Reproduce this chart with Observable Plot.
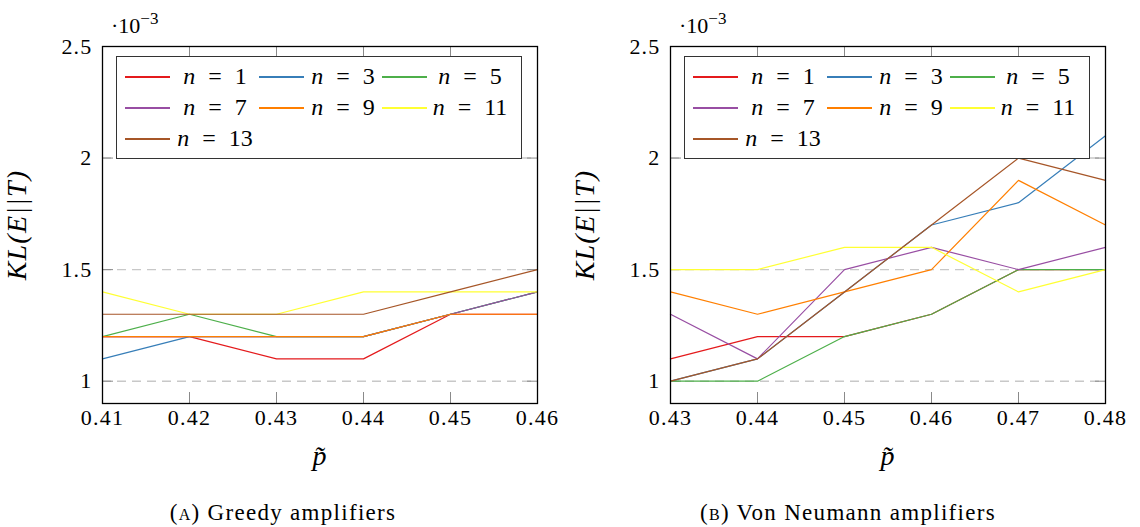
<!DOCTYPE html>
<html><head><meta charset="utf-8">
<script src="https://cdn.jsdelivr.net/npm/d3@7"></script>
<script src="https://cdn.jsdelivr.net/npm/@observablehq/plot@0.6"></script>
<style>
body{margin:0;background:#fff;}
#wrap{position:relative;width:1140px;height:527px;overflow:hidden;font-family:"Liberation Serif","Times New Roman",Tinos,"DejaVu Serif",serif;color:#000;background:#fff;}
.panel{position:absolute;top:0;width:570px;height:527px;}
.panel svg{position:absolute;left:0;top:0;}
.legend{position:absolute;left:116px;top:56px;width:406px;height:103px;border:1.3px solid #333;background:#fff;box-sizing:border-box;}
.li{position:absolute;height:1.5px;width:45px;}
.lt{position:absolute;width:100px;text-align:center;font-size:24px;line-height:24px;word-spacing:7px;white-space:nowrap;}
.exp{position:absolute;left:111px;top:15px;font-size:22px;line-height:22px;white-space:nowrap;}
.exp span{position:relative;top:-9px;font-size:17px;}
.cap{position:absolute;top:501px;font-size:23px;line-height:24px;letter-spacing:1.3px;white-space:nowrap;transform:translateX(-50%);}
[aria-label="ylabel"], [aria-label="ylabel"] text{letter-spacing:5px;}
[aria-label="xlabel"], [aria-label="xlabel"] text{letter-spacing:0;}
</style>
</head>
<body>
<div id="wrap"></div>
<script>
// series identifiers and colours
const nValues = [1, 3, 5, 7, 9, 11, 13];
const colors = ["#e41a1c", "#377eb8", "#4daf4a", "#984ea3", "#ff7f00", "#ffff33", "#a65628"];

// x values (p tilde)
const pGreedy = [0.41, 0.42, 0.43, 0.44, 0.45, 0.46];
const pVonNeumann = [0.43, 0.44, 0.45, 0.46, 0.47, 0.48];
const yTicks = [1, 1.5, 2, 2.5];

// KL(E||T) values, in units of 10^-3 — (A) Greedy amplifiers
const greedyN1  = [1.2, 1.2, 1.1, 1.1, 1.3, 1.3];
const greedyN3  = [1.1, 1.2, 1.2, 1.2, 1.3, 1.4];
const greedyN5  = [1.2, 1.3, 1.2, 1.2, 1.3, 1.4];
const greedyN7  = [1.2, 1.2, 1.2, 1.2, 1.3, 1.4];
const greedyN9  = [1.2, 1.2, 1.2, 1.2, 1.3, 1.3];
const greedyN11 = [1.4, 1.3, 1.3, 1.4, 1.4, 1.4];
const greedyN13 = [1.3, 1.3, 1.3, 1.3, 1.4, 1.5];

// (B) Von Neumann amplifiers
const vnN1  = [1.1, 1.2, 1.2, 1.3, 1.5, 1.5];
const vnN3  = [1.0, 1.1, 1.4, 1.7, 1.8, 2.1];
const vnN5  = [1.0, 1.0, 1.2, 1.3, 1.5, 1.5];
const vnN7  = [1.3, 1.1, 1.5, 1.6, 1.5, 1.6];
const vnN9  = [1.4, 1.3, 1.4, 1.5, 1.9, 1.7];
const vnN11 = [1.5, 1.5, 1.6, 1.6, 1.4, 1.5];
const vnN13 = [1.0, 1.1, 1.4, 1.7, 2.0, 1.9];

const greedySeries = [greedyN1, greedyN3, greedyN5, greedyN7, greedyN9, greedyN11, greedyN13];
const vnSeries = [vnN1, vnN3, vnN5, vnN7, vnN9, vnN11, vnN13];

const captions = ["Greedy amplifiers", "Von Neumann amplifiers"];
const captionTags = ["a", "b"];

const FONT = '"Liberation Serif","Times New Roman",Tinos,"DejaVu Serif",serif';

function makeChart(ps, series) {
  const data = series.flatMap((vals, i) => vals.map((v, j) => ({p: ps[j], kl: v, n: nValues[i]})));
  const tickGray = "#8a8a8a";
  return Plot.plot({
    width: 570, height: 480,
    marginLeft: 102, marginRight: 33, marginTop: 46, marginBottom: 77,
    style: {fontFamily: FONT, fontSize: "22px", letterSpacing: "1.2px", background: "transparent", overflow: "visible", color: "black"},
    x: {domain: [ps[0], ps[ps.length - 1]]},
    y: {domain: [0.9, 2.5]},
    color: {type: "ordinal", domain: nValues, range: colors},
    marks: [
      Plot.gridY(yTicks.slice(0, 3), {stroke: "#c8c8c8", strokeOpacity: 1, strokeWidth: 1.4, strokeDasharray: "9,6"}),
      Plot.axisY(yTicks, {anchor: "left", tickSize: 0, tickPadding: 10, label: null, tickFormat: d => String(d)}),
      Plot.axisY(yTicks, {anchor: "left", tickSize: -11, fill: "none", stroke: tickGray, label: null}),
      Plot.axisY(yTicks, {anchor: "right", tickSize: -11, fill: "none", stroke: tickGray, label: null}),
      Plot.axisX(ps, {anchor: "bottom", tickSize: 0, tickPadding: 6, label: null, tickFormat: d => d.toFixed(2)}),
      Plot.axisX(ps, {anchor: "bottom", tickSize: -11, fill: "none", stroke: tickGray, label: null}),
      Plot.axisX(ps, {anchor: "top", tickSize: -11, fill: "none", stroke: tickGray, label: null}),
      Plot.line(data, {x: "p", y: "kl", z: "n", stroke: "n", strokeWidth: 1.2}),
      Plot.frame({stroke: "black", strokeWidth: 1.3}),
      Plot.text(["KL(E||T)"], {text: d => d, frameAnchor: "left", textAnchor: "middle", lineAnchor: "middle", dx: -85, rotate: -90, fontSize: 28, fontStyle: "italic", ariaLabel: "ylabel"}),
      Plot.text(["p\u0303"], {text: d => d, frameAnchor: "bottom", textAnchor: "middle", lineAnchor: "middle", dy: 53, fontSize: 28, fontStyle: "italic", ariaLabel: "xlabel"})
    ]
  });
}

const wrap = document.getElementById("wrap");
const panels = [
  {left: 0, ps: pGreedy, series: greedySeries, capX: 283},
  {left: 568, ps: pVonNeumann, series: vnSeries, capX: 280}
];
const lineLefts = [8, 142, 265];
const textCenters = [98, 226, 353];
const rowCenters = [20, 51, 82];

panels.forEach((pn, k) => {
  const div = document.createElement("div");
  div.className = "panel";
  div.style.left = pn.left + "px";
  div.appendChild(makeChart(pn.ps, pn.series));

  const exp = document.createElement("div");
  exp.className = "exp";
  exp.innerHTML = "\u00b710<span>\u22123</span>";
  div.appendChild(exp);

  const leg = document.createElement("div");
  leg.className = "legend";
  nValues.forEach((n, i) => {
    const col = i % 3, row = Math.floor(i / 3);
    const ln = document.createElement("div");
    ln.className = "li";
    ln.style.background = colors[i];
    ln.style.left = lineLefts[col] + "px";
    ln.style.top = (rowCenters[row] - 1) + "px";
    leg.appendChild(ln);
    const tx = document.createElement("div");
    tx.className = "lt";
    tx.style.left = (textCenters[col] - 50) + "px";
    tx.style.top = (rowCenters[row] - 13) + "px";
    tx.innerHTML = "<i>n</i> = " + n;
    leg.appendChild(tx);
  });
  div.appendChild(leg);

  const cap = document.createElement("div");
  cap.className = "cap";
  cap.style.left = pn.capX + "px";
  cap.innerHTML = "(<span style=\"font-variant:small-caps\">" + captionTags[k] + "</span>) " + captions[k];
  div.appendChild(cap);

  wrap.appendChild(div);
});
</script>
</body></html>
